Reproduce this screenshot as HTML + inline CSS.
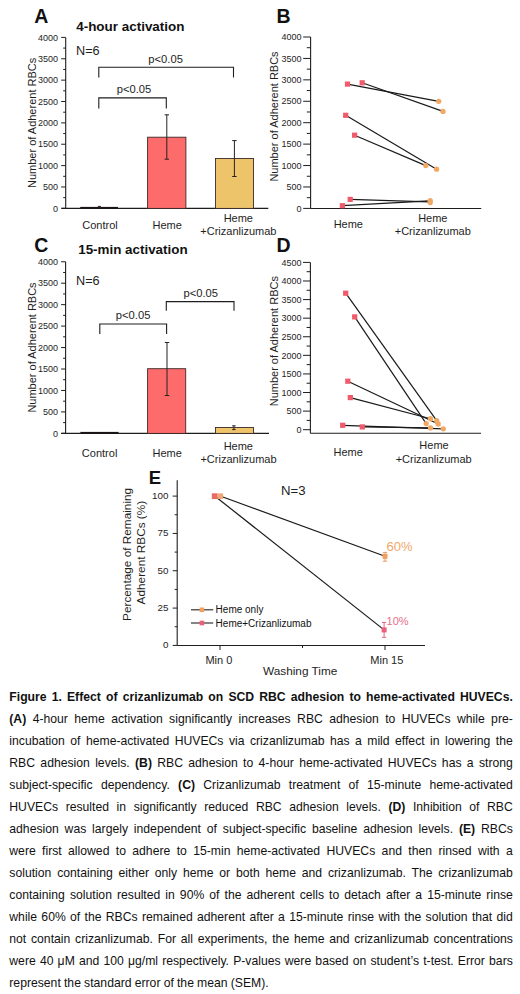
<!DOCTYPE html>
<html><head><meta charset="utf-8"><style>
html,body{margin:0;padding:0;background:#fff;}
body{width:520px;height:994px;position:relative;overflow:hidden;font-family:"Liberation Sans", sans-serif;}
svg{position:absolute;left:0;top:0;}
svg text{font-family:"Liberation Sans", sans-serif;}
.j,.l{position:absolute;left:9.3px;width:503.5px;font-size:12.2px;line-height:22.0px;color:#111;white-space:nowrap;}
.j{text-align:justify;text-align-last:justify;white-space:normal;}
.l{text-align:left;word-spacing:-0.2px;}
</style></head><body>
<svg width="520" height="690" viewBox="0 0 520 690">
<text x="34.20" y="23.40" font-size="19.5" text-anchor="start" font-weight="bold" fill="#111" >A</text>
<text x="76.20" y="30.80" font-size="13.45" text-anchor="start" font-weight="bold" fill="#111" >4-hour activation</text>
<line x1="65.70" y1="37.40" x2="65.70" y2="208.40" stroke="#1e1e1e" stroke-width="1.1"/>
<line x1="61.20" y1="208.35" x2="65.70" y2="208.35" stroke="#1e1e1e" stroke-width="1.0"/>
<text x="58.00" y="211.55" font-size="9.0" text-anchor="end" font-weight="normal" fill="#1e1e1e" >0</text>
<line x1="63.20" y1="197.67" x2="65.70" y2="197.67" stroke="#1e1e1e" stroke-width="1.0"/>
<line x1="61.20" y1="186.98" x2="65.70" y2="186.98" stroke="#1e1e1e" stroke-width="1.0"/>
<text x="58.00" y="190.18" font-size="9.0" text-anchor="end" font-weight="normal" fill="#1e1e1e" >500</text>
<line x1="63.20" y1="176.30" x2="65.70" y2="176.30" stroke="#1e1e1e" stroke-width="1.0"/>
<line x1="61.20" y1="165.61" x2="65.70" y2="165.61" stroke="#1e1e1e" stroke-width="1.0"/>
<text x="58.00" y="168.81" font-size="9.0" text-anchor="end" font-weight="normal" fill="#1e1e1e" >1000</text>
<line x1="63.20" y1="154.93" x2="65.70" y2="154.93" stroke="#1e1e1e" stroke-width="1.0"/>
<line x1="61.20" y1="144.24" x2="65.70" y2="144.24" stroke="#1e1e1e" stroke-width="1.0"/>
<text x="58.00" y="147.44" font-size="9.0" text-anchor="end" font-weight="normal" fill="#1e1e1e" >1500</text>
<line x1="63.20" y1="133.56" x2="65.70" y2="133.56" stroke="#1e1e1e" stroke-width="1.0"/>
<line x1="61.20" y1="122.88" x2="65.70" y2="122.88" stroke="#1e1e1e" stroke-width="1.0"/>
<text x="58.00" y="126.08" font-size="9.0" text-anchor="end" font-weight="normal" fill="#1e1e1e" >2000</text>
<line x1="63.20" y1="112.19" x2="65.70" y2="112.19" stroke="#1e1e1e" stroke-width="1.0"/>
<line x1="61.20" y1="101.51" x2="65.70" y2="101.51" stroke="#1e1e1e" stroke-width="1.0"/>
<text x="58.00" y="104.71" font-size="9.0" text-anchor="end" font-weight="normal" fill="#1e1e1e" >2500</text>
<line x1="63.20" y1="90.82" x2="65.70" y2="90.82" stroke="#1e1e1e" stroke-width="1.0"/>
<line x1="61.20" y1="80.14" x2="65.70" y2="80.14" stroke="#1e1e1e" stroke-width="1.0"/>
<text x="58.00" y="83.34" font-size="9.0" text-anchor="end" font-weight="normal" fill="#1e1e1e" >3000</text>
<line x1="63.20" y1="69.45" x2="65.70" y2="69.45" stroke="#1e1e1e" stroke-width="1.0"/>
<line x1="61.20" y1="58.77" x2="65.70" y2="58.77" stroke="#1e1e1e" stroke-width="1.0"/>
<text x="58.00" y="61.97" font-size="9.0" text-anchor="end" font-weight="normal" fill="#1e1e1e" >3500</text>
<line x1="63.20" y1="48.08" x2="65.70" y2="48.08" stroke="#1e1e1e" stroke-width="1.0"/>
<line x1="61.20" y1="37.40" x2="65.70" y2="37.40" stroke="#1e1e1e" stroke-width="1.0"/>
<text x="58.00" y="40.60" font-size="9.0" text-anchor="end" font-weight="normal" fill="#1e1e1e" >4000</text>
<line x1="61.50" y1="208.40" x2="268.30" y2="208.40" stroke="#1e1e1e" stroke-width="1.1"/>
<text transform="translate(36.00,122.90) rotate(-90)" font-size="11" text-anchor="middle" fill="#1e1e1e">Number of Adherent RBCs</text>
<text x="76.00" y="55.30" font-size="12.7" text-anchor="start" font-weight="normal" fill="#1e1e1e" >N=6</text>
<polyline points="98.80,77.60 98.80,67.20 233.50,67.20 233.50,77.60" fill="none" stroke="#1e1e1e" stroke-width="1.1"/>
<polyline points="98.80,108.50 98.80,97.90 166.30,97.90 166.30,108.50" fill="none" stroke="#1e1e1e" stroke-width="1.1"/>
<text x="165.60" y="62.70" font-size="11.2" text-anchor="middle" font-weight="normal" fill="#1e1e1e" >p&lt;0.05</text>
<text x="134.00" y="93.20" font-size="11.2" text-anchor="middle" font-weight="normal" fill="#1e1e1e" >p&lt;0.05</text>
<rect x="80.2" y="206.9" width="37.8" height="1.8" fill="#1a1414"/>
<line x1="99.40" y1="206.40" x2="99.40" y2="207.40" stroke="#2a2020" stroke-width="1.0"/>
<line x1="97.90" y1="206.40" x2="100.90" y2="206.40" stroke="#2a2020" stroke-width="1.0"/>
<line x1="97.90" y1="207.40" x2="100.90" y2="207.40" stroke="#2a2020" stroke-width="1.0"/>
<rect x="147.60" y="137.20" width="38.30" height="71.20" fill="#fd6b6b" stroke="#3a2a2a" stroke-width="0.9"/>
<line x1="166.80" y1="114.80" x2="166.80" y2="159.20" stroke="#2a2020" stroke-width="1.0"/>
<line x1="164.60" y1="114.80" x2="169.00" y2="114.80" stroke="#2a2020" stroke-width="1.0"/>
<line x1="164.60" y1="159.20" x2="169.00" y2="159.20" stroke="#2a2020" stroke-width="1.0"/>
<rect x="215.50" y="158.50" width="38.00" height="49.90" fill="#eec46a" stroke="#3a2a2a" stroke-width="0.9"/>
<line x1="234.40" y1="140.60" x2="234.40" y2="176.50" stroke="#2a2020" stroke-width="1.0"/>
<line x1="232.20" y1="140.60" x2="236.60" y2="140.60" stroke="#2a2020" stroke-width="1.0"/>
<line x1="232.20" y1="176.50" x2="236.60" y2="176.50" stroke="#2a2020" stroke-width="1.0"/>
<text x="100.00" y="229.20" font-size="11" text-anchor="middle" font-weight="normal" fill="#1e1e1e" >Control</text>
<text x="167.20" y="229.20" font-size="11" text-anchor="middle" font-weight="normal" fill="#1e1e1e" >Heme</text>
<text x="238.30" y="222.30" font-size="11" text-anchor="middle" font-weight="normal" fill="#1e1e1e" >Heme</text>
<text x="238.40" y="235.00" font-size="11" text-anchor="middle" font-weight="normal" fill="#1e1e1e" >+Crizanlizumab</text>
<text x="276.60" y="23.40" font-size="19.5" text-anchor="start" font-weight="bold" fill="#111" >B</text>
<line x1="310.60" y1="37.00" x2="310.60" y2="208.50" stroke="#1e1e1e" stroke-width="1.1"/>
<line x1="303.20" y1="208.40" x2="310.60" y2="208.40" stroke="#1e1e1e" stroke-width="1.0"/>
<text x="301.60" y="211.60" font-size="9.0" text-anchor="end" font-weight="normal" fill="#1e1e1e" >0</text>
<line x1="306.80" y1="197.69" x2="310.60" y2="197.69" stroke="#1e1e1e" stroke-width="1.0"/>
<line x1="303.20" y1="186.97" x2="310.60" y2="186.97" stroke="#1e1e1e" stroke-width="1.0"/>
<text x="301.60" y="190.17" font-size="9.0" text-anchor="end" font-weight="normal" fill="#1e1e1e" >500</text>
<line x1="306.80" y1="176.26" x2="310.60" y2="176.26" stroke="#1e1e1e" stroke-width="1.0"/>
<line x1="303.20" y1="165.55" x2="310.60" y2="165.55" stroke="#1e1e1e" stroke-width="1.0"/>
<text x="301.60" y="168.75" font-size="9.0" text-anchor="end" font-weight="normal" fill="#1e1e1e" >1000</text>
<line x1="306.80" y1="154.84" x2="310.60" y2="154.84" stroke="#1e1e1e" stroke-width="1.0"/>
<line x1="303.20" y1="144.12" x2="310.60" y2="144.12" stroke="#1e1e1e" stroke-width="1.0"/>
<text x="301.60" y="147.32" font-size="9.0" text-anchor="end" font-weight="normal" fill="#1e1e1e" >1500</text>
<line x1="306.80" y1="133.41" x2="310.60" y2="133.41" stroke="#1e1e1e" stroke-width="1.0"/>
<line x1="303.20" y1="122.70" x2="310.60" y2="122.70" stroke="#1e1e1e" stroke-width="1.0"/>
<text x="301.60" y="125.90" font-size="9.0" text-anchor="end" font-weight="normal" fill="#1e1e1e" >2000</text>
<line x1="306.80" y1="111.99" x2="310.60" y2="111.99" stroke="#1e1e1e" stroke-width="1.0"/>
<line x1="303.20" y1="101.28" x2="310.60" y2="101.28" stroke="#1e1e1e" stroke-width="1.0"/>
<text x="301.60" y="104.48" font-size="9.0" text-anchor="end" font-weight="normal" fill="#1e1e1e" >2500</text>
<line x1="306.80" y1="90.56" x2="310.60" y2="90.56" stroke="#1e1e1e" stroke-width="1.0"/>
<line x1="303.20" y1="79.85" x2="310.60" y2="79.85" stroke="#1e1e1e" stroke-width="1.0"/>
<text x="301.60" y="83.05" font-size="9.0" text-anchor="end" font-weight="normal" fill="#1e1e1e" >3000</text>
<line x1="306.80" y1="69.14" x2="310.60" y2="69.14" stroke="#1e1e1e" stroke-width="1.0"/>
<line x1="303.20" y1="58.43" x2="310.60" y2="58.43" stroke="#1e1e1e" stroke-width="1.0"/>
<text x="301.60" y="61.63" font-size="9.0" text-anchor="end" font-weight="normal" fill="#1e1e1e" >3500</text>
<line x1="306.80" y1="47.71" x2="310.60" y2="47.71" stroke="#1e1e1e" stroke-width="1.0"/>
<line x1="303.20" y1="37.00" x2="310.60" y2="37.00" stroke="#1e1e1e" stroke-width="1.0"/>
<text x="301.60" y="40.20" font-size="9.0" text-anchor="end" font-weight="normal" fill="#1e1e1e" >4000</text>
<line x1="310.60" y1="208.50" x2="481.20" y2="208.50" stroke="#1e1e1e" stroke-width="1.1"/>
<text transform="translate(278.00,116.50) rotate(-90)" font-size="11" text-anchor="middle" fill="#1e1e1e">Number of Adherent RBCs</text>
<line x1="347.50" y1="84.10" x2="438.70" y2="101.30" stroke="#1a1a1a" stroke-width="1.2"/>
<line x1="362.20" y1="82.80" x2="443.00" y2="111.40" stroke="#1a1a1a" stroke-width="1.2"/>
<line x1="345.70" y1="115.30" x2="436.60" y2="169.20" stroke="#1a1a1a" stroke-width="1.2"/>
<line x1="354.60" y1="135.20" x2="425.80" y2="165.60" stroke="#1a1a1a" stroke-width="1.2"/>
<line x1="350.20" y1="199.40" x2="429.00" y2="201.90" stroke="#1a1a1a" stroke-width="1.2"/>
<line x1="342.40" y1="205.70" x2="429.00" y2="200.90" stroke="#1a1a1a" stroke-width="1.2"/>
<rect x="344.90" y="81.50" width="5.2" height="5.2" fill="#f05a6a"/>
<rect x="359.60" y="80.20" width="5.2" height="5.2" fill="#f05a6a"/>
<rect x="343.10" y="112.70" width="5.2" height="5.2" fill="#f05a6a"/>
<rect x="352.00" y="132.60" width="5.2" height="5.2" fill="#f05a6a"/>
<rect x="347.60" y="196.80" width="5.2" height="5.2" fill="#f05a6a"/>
<rect x="339.80" y="203.10" width="5.2" height="5.2" fill="#f05a6a"/>
<circle cx="438.70" cy="101.30" r="2.65" fill="#f0a865"/>
<circle cx="443.00" cy="111.40" r="2.65" fill="#f0a865"/>
<circle cx="425.80" cy="165.60" r="2.65" fill="#f0a865"/>
<circle cx="436.60" cy="169.20" r="2.65" fill="#f0a865"/>
<circle cx="430.20" cy="200.60" r="2.65" fill="#f0a865"/>
<circle cx="430.20" cy="202.60" r="2.65" fill="#f0a865"/>
<text x="348.30" y="228.40" font-size="11" text-anchor="middle" font-weight="normal" fill="#1e1e1e" >Heme</text>
<text x="432.80" y="221.50" font-size="11" text-anchor="middle" font-weight="normal" fill="#1e1e1e" >Heme</text>
<text x="432.80" y="234.60" font-size="11" text-anchor="middle" font-weight="normal" fill="#1e1e1e" >+Crizanlizumab</text>
<text x="34.20" y="252.30" font-size="19.5" text-anchor="start" font-weight="bold" fill="#111" >C</text>
<text x="78.20" y="253.70" font-size="13.4" text-anchor="start" font-weight="bold" fill="#111" >15-min activation</text>
<line x1="65.60" y1="261.75" x2="65.60" y2="433.40" stroke="#1e1e1e" stroke-width="1.1"/>
<line x1="61.10" y1="433.35" x2="65.60" y2="433.35" stroke="#1e1e1e" stroke-width="1.0"/>
<text x="58.00" y="436.55" font-size="9.0" text-anchor="end" font-weight="normal" fill="#1e1e1e" >0</text>
<line x1="63.10" y1="422.62" x2="65.60" y2="422.62" stroke="#1e1e1e" stroke-width="1.0"/>
<line x1="61.10" y1="411.90" x2="65.60" y2="411.90" stroke="#1e1e1e" stroke-width="1.0"/>
<text x="58.00" y="415.10" font-size="9.0" text-anchor="end" font-weight="normal" fill="#1e1e1e" >500</text>
<line x1="63.10" y1="401.18" x2="65.60" y2="401.18" stroke="#1e1e1e" stroke-width="1.0"/>
<line x1="61.10" y1="390.45" x2="65.60" y2="390.45" stroke="#1e1e1e" stroke-width="1.0"/>
<text x="58.00" y="393.65" font-size="9.0" text-anchor="end" font-weight="normal" fill="#1e1e1e" >1000</text>
<line x1="63.10" y1="379.73" x2="65.60" y2="379.73" stroke="#1e1e1e" stroke-width="1.0"/>
<line x1="61.10" y1="369.00" x2="65.60" y2="369.00" stroke="#1e1e1e" stroke-width="1.0"/>
<text x="58.00" y="372.20" font-size="9.0" text-anchor="end" font-weight="normal" fill="#1e1e1e" >1500</text>
<line x1="63.10" y1="358.27" x2="65.60" y2="358.27" stroke="#1e1e1e" stroke-width="1.0"/>
<line x1="61.10" y1="347.55" x2="65.60" y2="347.55" stroke="#1e1e1e" stroke-width="1.0"/>
<text x="58.00" y="350.75" font-size="9.0" text-anchor="end" font-weight="normal" fill="#1e1e1e" >2000</text>
<line x1="63.10" y1="336.82" x2="65.60" y2="336.82" stroke="#1e1e1e" stroke-width="1.0"/>
<line x1="61.10" y1="326.10" x2="65.60" y2="326.10" stroke="#1e1e1e" stroke-width="1.0"/>
<text x="58.00" y="329.30" font-size="9.0" text-anchor="end" font-weight="normal" fill="#1e1e1e" >2500</text>
<line x1="63.10" y1="315.38" x2="65.60" y2="315.38" stroke="#1e1e1e" stroke-width="1.0"/>
<line x1="61.10" y1="304.65" x2="65.60" y2="304.65" stroke="#1e1e1e" stroke-width="1.0"/>
<text x="58.00" y="307.85" font-size="9.0" text-anchor="end" font-weight="normal" fill="#1e1e1e" >3000</text>
<line x1="63.10" y1="293.93" x2="65.60" y2="293.93" stroke="#1e1e1e" stroke-width="1.0"/>
<line x1="61.10" y1="283.20" x2="65.60" y2="283.20" stroke="#1e1e1e" stroke-width="1.0"/>
<text x="58.00" y="286.40" font-size="9.0" text-anchor="end" font-weight="normal" fill="#1e1e1e" >3500</text>
<line x1="63.10" y1="272.48" x2="65.60" y2="272.48" stroke="#1e1e1e" stroke-width="1.0"/>
<line x1="61.10" y1="261.75" x2="65.60" y2="261.75" stroke="#1e1e1e" stroke-width="1.0"/>
<text x="58.00" y="264.95" font-size="9.0" text-anchor="end" font-weight="normal" fill="#1e1e1e" >4000</text>
<line x1="61.30" y1="433.40" x2="269.00" y2="433.40" stroke="#1e1e1e" stroke-width="1.1"/>
<text transform="translate(36.00,347.50) rotate(-90)" font-size="11" text-anchor="middle" fill="#1e1e1e">Number of Adherent RBCs</text>
<text x="76.00" y="285.40" font-size="12.7" text-anchor="start" font-weight="normal" fill="#1e1e1e" >N=6</text>
<polyline points="99.80,334.00 99.80,324.00 166.60,324.00 166.60,334.00" fill="none" stroke="#1e1e1e" stroke-width="1.1"/>
<polyline points="166.30,310.80 166.30,301.60 234.00,301.60 234.00,310.80" fill="none" stroke="#1e1e1e" stroke-width="1.1"/>
<text x="133.10" y="319.00" font-size="11.2" text-anchor="middle" font-weight="normal" fill="#1e1e1e" >p&lt;0.05</text>
<text x="200.80" y="297.00" font-size="11.2" text-anchor="middle" font-weight="normal" fill="#1e1e1e" >p&lt;0.05</text>
<rect x="80.4" y="431.9" width="38.2" height="1.8" fill="#1a1414"/>
<rect x="147.60" y="368.70" width="38.10" height="64.70" fill="#fd6b6b" stroke="#3a2a2a" stroke-width="0.9"/>
<line x1="167.00" y1="342.50" x2="167.00" y2="395.50" stroke="#2a2020" stroke-width="1.0"/>
<line x1="164.80" y1="342.50" x2="169.20" y2="342.50" stroke="#2a2020" stroke-width="1.0"/>
<line x1="164.80" y1="395.50" x2="169.20" y2="395.50" stroke="#2a2020" stroke-width="1.0"/>
<rect x="215.50" y="427.50" width="38.00" height="5.90" fill="#eec46a" stroke="#3a2a2a" stroke-width="0.9"/>
<line x1="233.90" y1="425.80" x2="233.90" y2="429.60" stroke="#2a2020" stroke-width="1.0"/>
<line x1="232.15" y1="425.80" x2="235.65" y2="425.80" stroke="#2a2020" stroke-width="1.0"/>
<line x1="232.15" y1="429.60" x2="235.65" y2="429.60" stroke="#2a2020" stroke-width="1.0"/>
<text x="99.60" y="457.10" font-size="11" text-anchor="middle" font-weight="normal" fill="#1e1e1e" >Control</text>
<text x="167.20" y="457.10" font-size="11" text-anchor="middle" font-weight="normal" fill="#1e1e1e" >Heme</text>
<text x="238.30" y="449.80" font-size="11" text-anchor="middle" font-weight="normal" fill="#1e1e1e" >Heme</text>
<text x="238.50" y="462.60" font-size="11" text-anchor="middle" font-weight="normal" fill="#1e1e1e" >+Crizanlizumab</text>
<text x="276.60" y="252.20" font-size="19.5" text-anchor="start" font-weight="bold" fill="#111" >D</text>
<line x1="310.40" y1="262.40" x2="310.40" y2="433.30" stroke="#1e1e1e" stroke-width="1.1"/>
<line x1="303.00" y1="429.70" x2="310.40" y2="429.70" stroke="#1e1e1e" stroke-width="1.0"/>
<text x="301.60" y="432.90" font-size="9.0" text-anchor="end" font-weight="normal" fill="#1e1e1e" >0</text>
<line x1="306.60" y1="420.41" x2="310.40" y2="420.41" stroke="#1e1e1e" stroke-width="1.0"/>
<line x1="303.00" y1="411.11" x2="310.40" y2="411.11" stroke="#1e1e1e" stroke-width="1.0"/>
<text x="301.60" y="414.31" font-size="9.0" text-anchor="end" font-weight="normal" fill="#1e1e1e" >500</text>
<line x1="306.60" y1="401.82" x2="310.40" y2="401.82" stroke="#1e1e1e" stroke-width="1.0"/>
<line x1="303.00" y1="392.52" x2="310.40" y2="392.52" stroke="#1e1e1e" stroke-width="1.0"/>
<text x="301.60" y="395.72" font-size="9.0" text-anchor="end" font-weight="normal" fill="#1e1e1e" >1000</text>
<line x1="306.60" y1="383.23" x2="310.40" y2="383.23" stroke="#1e1e1e" stroke-width="1.0"/>
<line x1="303.00" y1="373.93" x2="310.40" y2="373.93" stroke="#1e1e1e" stroke-width="1.0"/>
<text x="301.60" y="377.13" font-size="9.0" text-anchor="end" font-weight="normal" fill="#1e1e1e" >1500</text>
<line x1="306.60" y1="364.64" x2="310.40" y2="364.64" stroke="#1e1e1e" stroke-width="1.0"/>
<line x1="303.00" y1="355.34" x2="310.40" y2="355.34" stroke="#1e1e1e" stroke-width="1.0"/>
<text x="301.60" y="358.54" font-size="9.0" text-anchor="end" font-weight="normal" fill="#1e1e1e" >2000</text>
<line x1="306.60" y1="346.05" x2="310.40" y2="346.05" stroke="#1e1e1e" stroke-width="1.0"/>
<line x1="303.00" y1="336.76" x2="310.40" y2="336.76" stroke="#1e1e1e" stroke-width="1.0"/>
<text x="301.60" y="339.96" font-size="9.0" text-anchor="end" font-weight="normal" fill="#1e1e1e" >2500</text>
<line x1="306.60" y1="327.46" x2="310.40" y2="327.46" stroke="#1e1e1e" stroke-width="1.0"/>
<line x1="303.00" y1="318.17" x2="310.40" y2="318.17" stroke="#1e1e1e" stroke-width="1.0"/>
<text x="301.60" y="321.37" font-size="9.0" text-anchor="end" font-weight="normal" fill="#1e1e1e" >3000</text>
<line x1="306.60" y1="308.87" x2="310.40" y2="308.87" stroke="#1e1e1e" stroke-width="1.0"/>
<line x1="303.00" y1="299.58" x2="310.40" y2="299.58" stroke="#1e1e1e" stroke-width="1.0"/>
<text x="301.60" y="302.78" font-size="9.0" text-anchor="end" font-weight="normal" fill="#1e1e1e" >3500</text>
<line x1="306.60" y1="290.28" x2="310.40" y2="290.28" stroke="#1e1e1e" stroke-width="1.0"/>
<line x1="303.00" y1="280.99" x2="310.40" y2="280.99" stroke="#1e1e1e" stroke-width="1.0"/>
<text x="301.60" y="284.19" font-size="9.0" text-anchor="end" font-weight="normal" fill="#1e1e1e" >4000</text>
<line x1="306.60" y1="271.69" x2="310.40" y2="271.69" stroke="#1e1e1e" stroke-width="1.0"/>
<line x1="303.00" y1="262.40" x2="310.40" y2="262.40" stroke="#1e1e1e" stroke-width="1.0"/>
<text x="301.60" y="265.60" font-size="9.0" text-anchor="end" font-weight="normal" fill="#1e1e1e" >4500</text>
<line x1="310.40" y1="433.30" x2="481.00" y2="433.30" stroke="#1e1e1e" stroke-width="1.1"/>
<text transform="translate(278.00,341.20) rotate(-90)" font-size="11" text-anchor="middle" fill="#1e1e1e">Number of Adherent RBCs</text>
<line x1="345.70" y1="293.20" x2="436.70" y2="420.70" stroke="#1a1a1a" stroke-width="1.2"/>
<line x1="354.70" y1="316.90" x2="426.20" y2="423.60" stroke="#1a1a1a" stroke-width="1.2"/>
<line x1="347.80" y1="381.20" x2="438.20" y2="424.00" stroke="#1a1a1a" stroke-width="1.2"/>
<line x1="350.30" y1="397.60" x2="430.50" y2="418.75" stroke="#1a1a1a" stroke-width="1.2"/>
<line x1="342.70" y1="425.30" x2="443.30" y2="428.80" stroke="#1a1a1a" stroke-width="1.2"/>
<line x1="362.30" y1="426.90" x2="430.50" y2="427.90" stroke="#1a1a1a" stroke-width="1.2"/>
<rect x="343.10" y="290.60" width="5.2" height="5.2" fill="#f05a6a"/>
<rect x="352.10" y="314.30" width="5.2" height="5.2" fill="#f05a6a"/>
<rect x="345.20" y="378.60" width="5.2" height="5.2" fill="#f05a6a"/>
<rect x="347.70" y="395.00" width="5.2" height="5.2" fill="#f05a6a"/>
<rect x="340.10" y="422.70" width="5.2" height="5.2" fill="#f05a6a"/>
<rect x="359.70" y="424.30" width="5.2" height="5.2" fill="#f05a6a"/>
<circle cx="426.20" cy="423.60" r="2.65" fill="#f0a865"/>
<circle cx="430.50" cy="418.75" r="2.65" fill="#f0a865"/>
<circle cx="436.70" cy="420.70" r="2.65" fill="#f0a865"/>
<circle cx="438.20" cy="424.00" r="2.65" fill="#f0a865"/>
<circle cx="430.50" cy="427.90" r="2.65" fill="#f0a865"/>
<circle cx="443.30" cy="428.80" r="2.65" fill="#f0a865"/>
<text x="348.20" y="456.00" font-size="11" text-anchor="middle" font-weight="normal" fill="#1e1e1e" >Heme</text>
<text x="434.00" y="448.70" font-size="11" text-anchor="middle" font-weight="normal" fill="#1e1e1e" >Heme</text>
<text x="433.70" y="462.60" font-size="11" text-anchor="middle" font-weight="normal" fill="#1e1e1e" >+Crizanlizumab</text>
<text x="148.80" y="484.20" font-size="18.5" text-anchor="start" font-weight="bold" fill="#111" >E</text>
<line x1="177.20" y1="480.30" x2="177.20" y2="645.60" stroke="#1e1e1e" stroke-width="1.1"/>
<line x1="172.70" y1="645.40" x2="177.20" y2="645.40" stroke="#1e1e1e" stroke-width="1.0"/>
<text x="168.40" y="648.30" font-size="9.8" text-anchor="end" font-weight="normal" fill="#1e1e1e" >0</text>
<line x1="172.70" y1="608.08" x2="177.20" y2="608.08" stroke="#1e1e1e" stroke-width="1.0"/>
<text x="168.40" y="610.98" font-size="9.8" text-anchor="end" font-weight="normal" fill="#1e1e1e" >25</text>
<line x1="172.70" y1="570.75" x2="177.20" y2="570.75" stroke="#1e1e1e" stroke-width="1.0"/>
<text x="168.40" y="573.65" font-size="9.8" text-anchor="end" font-weight="normal" fill="#1e1e1e" >50</text>
<line x1="172.70" y1="533.43" x2="177.20" y2="533.43" stroke="#1e1e1e" stroke-width="1.0"/>
<text x="168.40" y="536.33" font-size="9.8" text-anchor="end" font-weight="normal" fill="#1e1e1e" >75</text>
<line x1="172.70" y1="496.10" x2="177.20" y2="496.10" stroke="#1e1e1e" stroke-width="1.0"/>
<text x="168.40" y="499.00" font-size="9.8" text-anchor="end" font-weight="normal" fill="#1e1e1e" >100</text>
<line x1="174.70" y1="626.74" x2="177.20" y2="626.74" stroke="#1e1e1e" stroke-width="1.0"/>
<line x1="174.70" y1="589.41" x2="177.20" y2="589.41" stroke="#1e1e1e" stroke-width="1.0"/>
<line x1="174.70" y1="552.09" x2="177.20" y2="552.09" stroke="#1e1e1e" stroke-width="1.0"/>
<line x1="174.70" y1="514.76" x2="177.20" y2="514.76" stroke="#1e1e1e" stroke-width="1.0"/>
<line x1="177.20" y1="645.50" x2="425.00" y2="645.50" stroke="#1e1e1e" stroke-width="1.1"/>
<line x1="220.00" y1="645.50" x2="220.00" y2="650.00" stroke="#1e1e1e" stroke-width="1.0"/>
<line x1="385.00" y1="645.50" x2="385.00" y2="650.00" stroke="#1e1e1e" stroke-width="1.0"/>
<line x1="302.50" y1="645.50" x2="302.50" y2="648.00" stroke="#1e1e1e" stroke-width="1.0"/>
<text x="218.90" y="664.30" font-size="11" text-anchor="middle" font-weight="normal" fill="#1e1e1e" >Min 0</text>
<text x="386.80" y="663.60" font-size="11" text-anchor="middle" font-weight="normal" fill="#1e1e1e" >Min 15</text>
<text x="300.20" y="674.60" font-size="11.8" text-anchor="middle" font-weight="normal" fill="#1e1e1e" >Washing Time</text>
<text transform="translate(131.20,554.40) rotate(-90)" font-size="11.8" text-anchor="middle" fill="#1e1e1e">Percentage of Remaining</text>
<text transform="translate(145.00,552.60) rotate(-90)" font-size="11.8" text-anchor="middle" fill="#1e1e1e">Adherent RBCs (%)</text>
<text x="281.00" y="494.80" font-size="13.2" text-anchor="start" font-weight="normal" fill="#1e1e1e" >N=3</text>
<line x1="220.80" y1="496.20" x2="385.00" y2="556.30" stroke="#1a1a1a" stroke-width="1.2"/>
<line x1="215.00" y1="496.20" x2="384.10" y2="629.90" stroke="#1a1a1a" stroke-width="1.2"/>
<rect x="211.80" y="493.30" width="5.8" height="5.8" fill="#e86c64"/>
<rect x="217.50" y="493.40" width="5.6" height="5.6" fill="#f0a676"/>
<line x1="385.00" y1="552.40" x2="385.00" y2="561.20" stroke="#e89a60" stroke-width="1.0"/>
<line x1="382.90" y1="552.40" x2="387.10" y2="552.40" stroke="#e89a60" stroke-width="1.0"/>
<line x1="382.90" y1="561.20" x2="387.10" y2="561.20" stroke="#e89a60" stroke-width="1.0"/>
<rect x="382.50" y="553.80" width="5" height="5" fill="#f0a060"/>
<line x1="384.10" y1="622.50" x2="384.10" y2="637.30" stroke="#e06a80" stroke-width="1.0"/>
<line x1="382.00" y1="622.50" x2="386.20" y2="622.50" stroke="#e06a80" stroke-width="1.0"/>
<line x1="382.00" y1="637.30" x2="386.20" y2="637.30" stroke="#e06a80" stroke-width="1.0"/>
<rect x="381.60" y="627.40" width="5" height="5" fill="#e8607a"/>
<text x="386.60" y="550.80" font-size="13" text-anchor="start" font-weight="normal" fill="#f0a868" >60%</text>
<text x="386.60" y="624.70" font-size="11" text-anchor="start" font-weight="normal" fill="#e87088" >10%</text>
<line x1="191.00" y1="609.80" x2="213.20" y2="609.80" stroke="#333" stroke-width="1.2"/>
<rect x="199.60" y="607.50" width="4.6" height="4.6" fill="#f0a060"/>
<line x1="191.00" y1="623.00" x2="213.20" y2="623.00" stroke="#333" stroke-width="1.2"/>
<rect x="199.60" y="620.70" width="4.6" height="4.6" fill="#e8607a"/>
<text x="215.60" y="612.90" font-size="10" text-anchor="start" font-weight="normal" fill="#111" >Heme only</text>
<text x="215.60" y="626.60" font-size="10" text-anchor="start" font-weight="normal" fill="#111" >Heme+Crizanlizumab</text>
</svg>
<div class="j" style="top:685.67px"><b>Figure 1. Effect of crizanlizumab on SCD RBC adhesion to heme-activated HUVECs.</b></div>
<div class="j" style="top:707.67px"><b>(A)</b> 4-hour heme activation significantly increases RBC adhesion to HUVECs while pre-</div>
<div class="j" style="top:729.67px">incubation of heme-activated HUVECs via crizanlizumab has a mild effect in lowering the</div>
<div class="j" style="top:751.67px">RBC adhesion levels. <b>(B)</b> RBC adhesion to 4-hour heme-activated HUVECs has a strong</div>
<div class="j" style="top:773.67px">subject-specific dependency. <b>(C)</b> Crizanlizumab treatment of 15-minute heme-activated</div>
<div class="j" style="top:795.67px">HUVECs resulted in significantly reduced RBC adhesion levels. <b>(D)</b> Inhibition of RBC</div>
<div class="j" style="top:817.67px">adhesion was largely independent of subject-specific baseline adhesion levels. <b>(E)</b> RBCs</div>
<div class="j" style="top:839.67px">were first allowed to adhere to 15-min heme-activated HUVECs and then rinsed with a</div>
<div class="j" style="top:861.67px">solution containing either only heme or both heme and crizanlizumab. The crizanlizumab</div>
<div class="j" style="top:883.67px">containing solution resulted in 90% of the adherent cells to detach after a 15-minute rinse</div>
<div class="j" style="top:905.67px">while 60% of the RBCs remained adherent after a 15-minute rinse with the solution that did</div>
<div class="j" style="top:927.67px">not contain crizanlizumab. For all experiments, the heme and crizanlizumab concentrations</div>
<div class="j" style="top:949.67px">were 40 μM and 100 μg/ml respectively. P-values were based on student’s t-test. Error bars</div>
<div class="l" style="top:971.67px">represent the standard error of the mean (SEM).</div>
</body></html>
